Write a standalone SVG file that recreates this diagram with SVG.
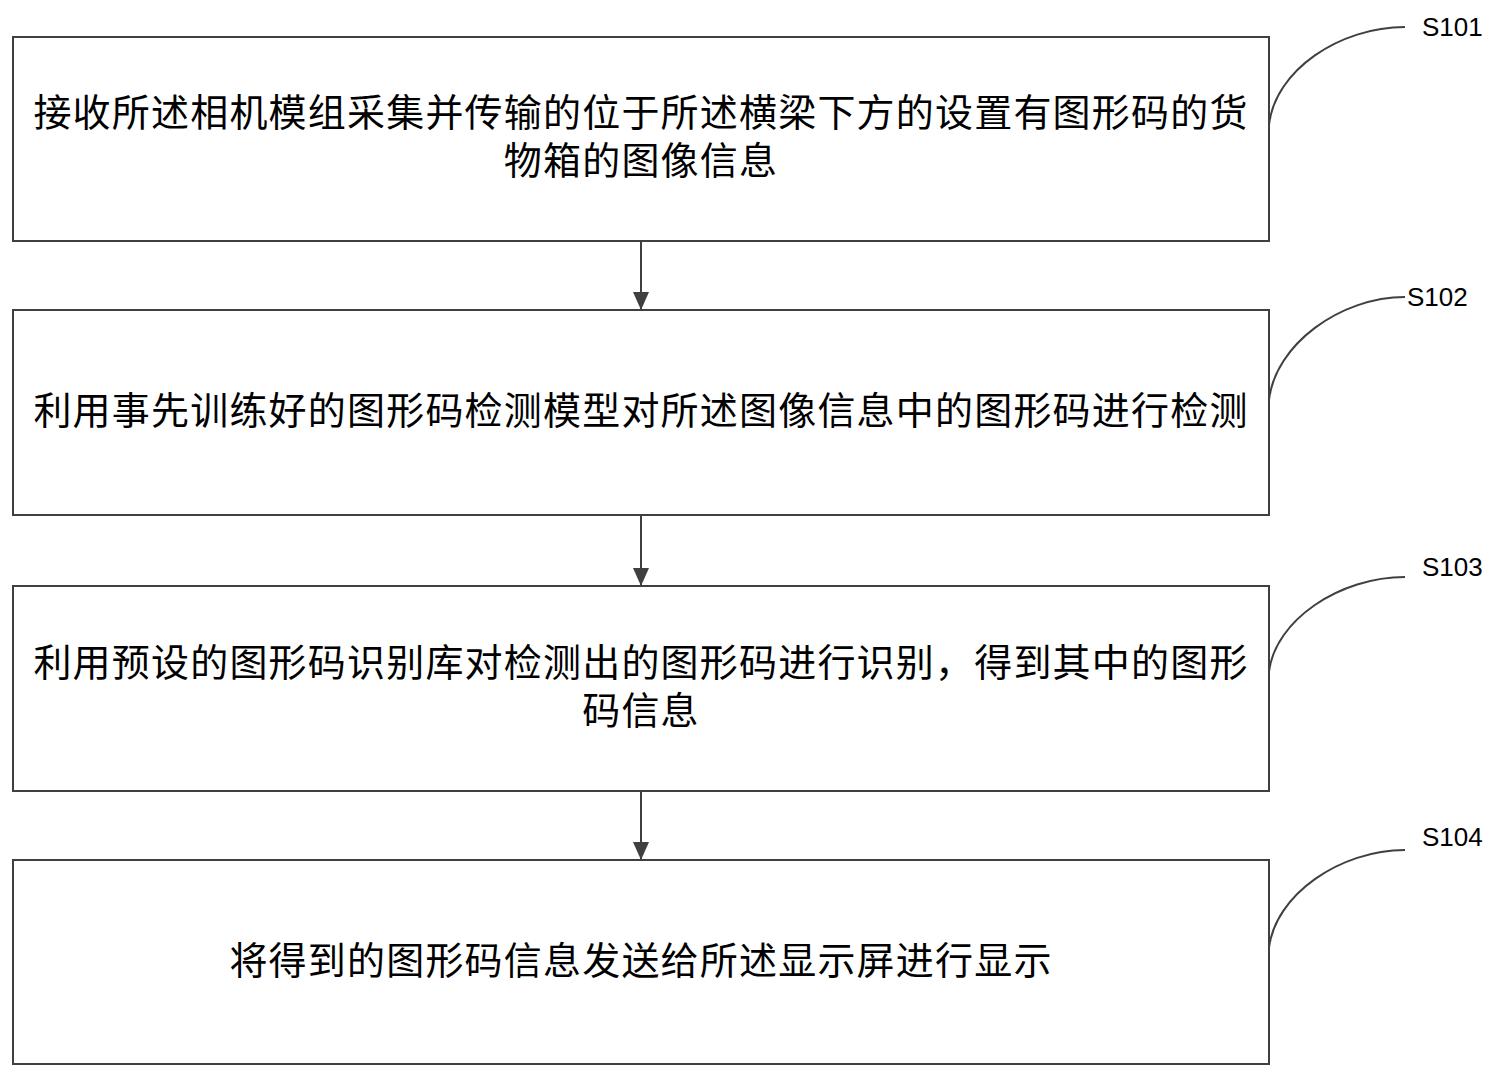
<svg xmlns="http://www.w3.org/2000/svg" width="1501" height="1079" viewBox="0 0 1501 1079">
<defs>
<marker id="ah" markerWidth="18" markerHeight="18" refX="17" refY="9" orient="auto" markerUnits="userSpaceOnUse" viewBox="0 0 18 18"><path d="M0,1 L18,9 L0,17 z" fill="#404040"/></marker>
<style>
.box{fill:#fff;stroke:#404040;stroke-width:2}
.t{font-family:"Noto Sans CJK SC","Liberation Sans",sans-serif;font-size:38px;letter-spacing:1.2px;fill:#000;text-anchor:middle}
.lb{font-family:"Liberation Sans",sans-serif;font-size:26px;fill:#000}
.c{fill:none;stroke:#404040;stroke-width:2}
</style>
</defs>
<rect width="1501" height="1079" fill="#fff"/>
<g id="n1"><rect class="box" x="13" y="37" width="1256" height="204"/>
<text class="t" x="641" y="126">接收所述相机模组采集并传输的位于所述横梁下方的设置有图形码的货</text>
<text class="t" x="641" y="174">物箱的图像信息</text></g>
<g id="n2"><rect class="box" x="13" y="310" width="1256" height="205"/>
<text class="t" x="641" y="424">利用事先训练好的图形码检测模型对所述图像信息中的图形码进行检测</text></g>
<g id="n3"><rect class="box" x="13" y="586" width="1256" height="205"/>
<text class="t" x="641" y="676">利用预设的图形码识别库对检测出的图形码进行识别，得到其中的图形</text>
<text class="t" x="641" y="724">码信息</text></g>
<g id="n4"><rect class="box" x="13" y="860" width="1256" height="204"/>
<text class="t" x="641" y="974">将得到的图形码信息发送给所述显示屏进行显示</text></g>
<g id="connectors">
<line class="c" x1="641" y1="241" x2="641" y2="309" marker-end="url(#ah)"/>
<line class="c" x1="641" y1="515" x2="641" y2="585" marker-end="url(#ah)"/>
<line class="c" x1="641" y1="791" x2="641" y2="859" marker-end="url(#ah)"/>
<path class="c" d="M1269,125 C1275,70 1340,27 1405,27"/>
<path class="c" d="M1269,400 C1275,345 1340,297 1405,297"/>
<path class="c" d="M1269,672 C1275,620 1340,577 1405,577"/>
<path class="c" d="M1269,948 C1275,895 1340,850 1405,850"/>
</g>
<g id="labels">
<text class="lb" x="1422" y="36">S101</text>
<text class="lb" x="1407" y="306">S102</text>
<text class="lb" x="1422" y="576">S103</text>
<text class="lb" x="1422" y="846">S104</text>
</g>
</svg>
